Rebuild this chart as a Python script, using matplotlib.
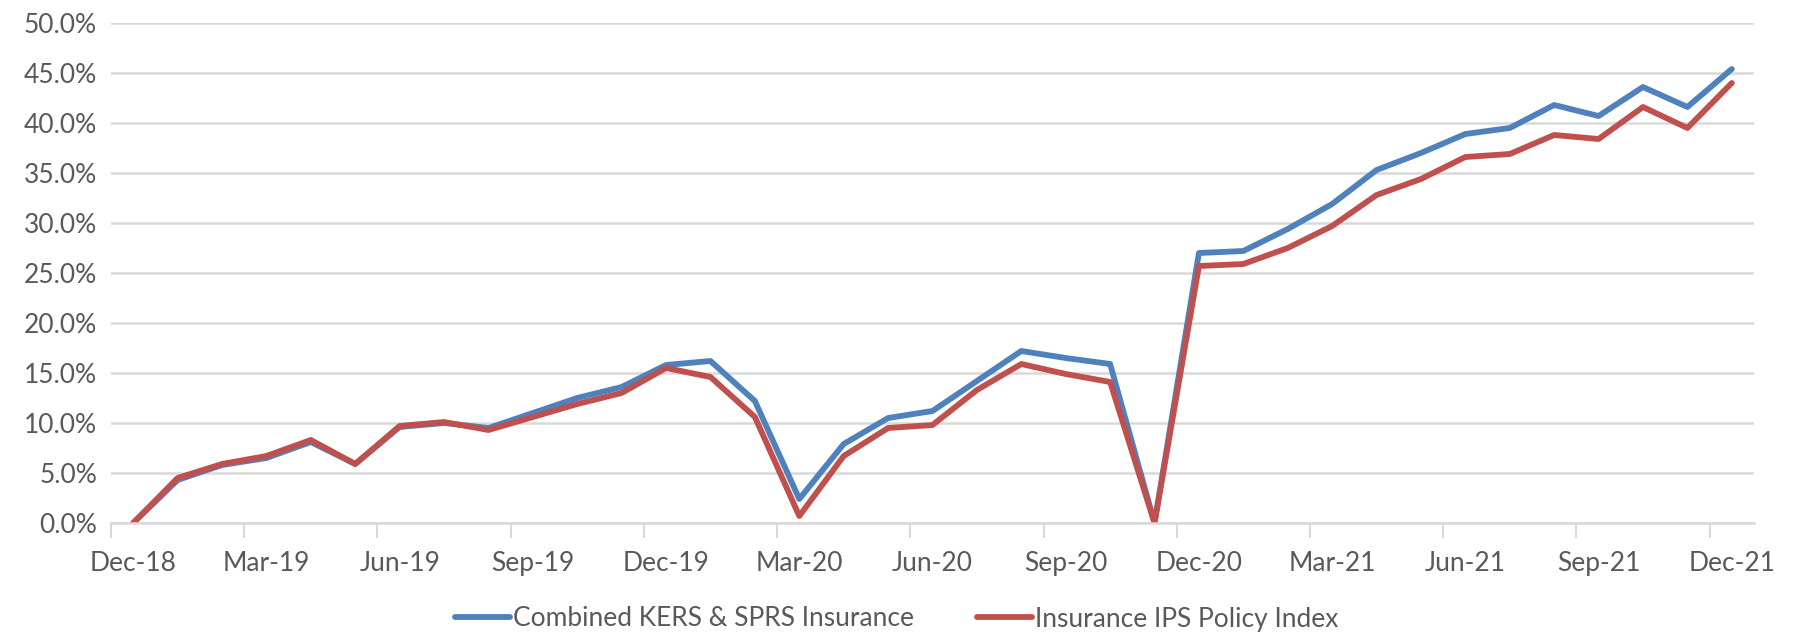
import matplotlib
matplotlib.use('Agg')
import matplotlib.pyplot as plt
from matplotlib.ticker import FuncFormatter

plt.rcParams['font.family'] = ['Lato', 'DejaVu Sans']

months = ['Dec-18', 'Jan-19', 'Feb-19', 'Mar-19', 'Apr-19', 'May-19', 'Jun-19', 'Jul-19',
          'Aug-19', 'Sep-19', 'Oct-19', 'Nov-19', 'Dec-19', 'Jan-20', 'Feb-20', 'Mar-20',
          'Apr-20', 'May-20', 'Jun-20', 'Jul-20', 'Aug-20', 'Sep-20', 'Oct-20', 'Nov-20',
          'Dec-20', 'Jan-21', 'Feb-21', 'Mar-21', 'Apr-21', 'May-21', 'Jun-21', 'Jul-21',
          'Aug-21', 'Sep-21', 'Oct-21', 'Nov-21', 'Dec-21']

combined = [0.0, 4.3, 5.8, 6.5, 8.1, 5.9, 9.6, 10.0, 9.5, 11.0, 12.5, 13.6, 15.8,
            16.2, 12.2, 2.4, 7.9, 10.5, 11.2, 14.2, 17.2, 16.5, 15.9, 0.0,
            27.0, 27.2, 29.4, 31.9, 35.3, 37.0, 38.9, 39.5, 41.8, 40.7, 43.6, 41.6, 45.4]

ips_index = [0.0, 4.5, 5.9, 6.7, 8.3, 5.9, 9.7, 10.1, 9.3, 10.6, 11.9, 13.0, 15.5,
             14.6, 10.6, 0.7, 6.7, 9.5, 9.8, 13.3, 15.9, 14.9, 14.1, 0.0,
             25.7, 25.9, 27.5, 29.7, 32.8, 34.4, 36.6, 36.9, 38.8, 38.4, 41.6, 39.5, 44.0]

series_names = ['Combined KERS & SPRS Insurance', 'Insurance IPS Policy Index']

x = list(range(len(months)))
grey = '#595959'
grid = '#D9D9D9'
fs = 19

fig = plt.figure(figsize=(17.93, 6.36), dpi=100)
ax = fig.add_axes([111 / 1793, 1 - 523 / 636, (1754 - 111) / 1793, (523 - 23) / 636])

ax.plot(x, combined, color='#4F81BD', lw=4.2, label=series_names[0], solid_capstyle='round')
ax.plot(x, ips_index, color='#C0504D', lw=4.2, label=series_names[1], solid_capstyle='round')

ax.set_xlim(-0.5, len(months) - 0.5)
ax.set_ylim(0, 50)
ax.set_yticks(range(0, 51, 5))
ax.yaxis.set_major_formatter(FuncFormatter(lambda v, p: '%.1f%%' % v))
ax.grid(axis='y', color=grid, lw=1.8)
ax.set_axisbelow(True)

# ticks between months, labels every quarter
ax.set_xticks([i - 0.5 for i in range(0, len(months), 3)])
ax.set_xticklabels([])
ax.set_xticks(range(0, len(months), 3), minor=True)
ax.set_xticklabels([months[i] for i in range(0, len(months), 3)], minor=True)
ax.tick_params(axis='x', which='major', length=11, width=1.5, color=grid, direction='out')
ax.tick_params(axis='x', which='minor', length=0, pad=20, labelsize=fs, labelcolor=grey)
ax.tick_params(axis='y', length=0, pad=10, labelsize=fs, labelcolor=grey)

for s in ['top', 'right', 'left']:
    ax.spines[s].set_visible(False)
ax.spines['bottom'].set_color(grid)
ax.spines['bottom'].set_linewidth(1.8)

fig.legend(loc='center', bbox_to_anchor=(0.5, 1 - 619 / 636), ncol=2, frameon=False,
           fontsize=fs, labelcolor=grey, handlelength=2.1, handletextpad=0.1,
           columnspacing=2.4)

fig.savefig('out.png', dpi=100)
